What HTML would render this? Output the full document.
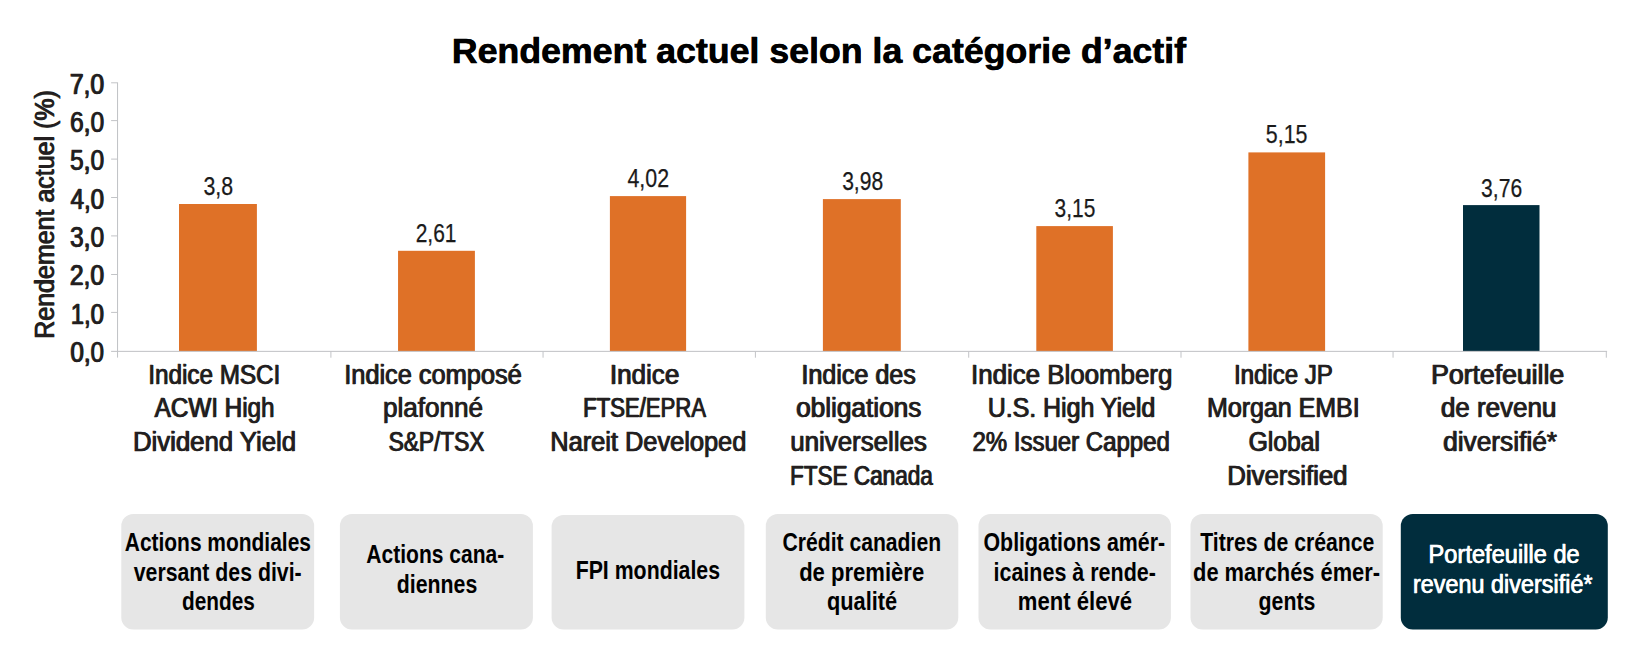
<!DOCTYPE html>
<html lang="fr">
<head>
<meta charset="utf-8">
<title>Rendement actuel selon la catégorie d’actif</title>
<style>
html,body{margin:0;padding:0;background:#fff;}
body{width:1642px;height:656px;position:relative;overflow:hidden;font-family:"Liberation Sans",sans-serif;}
.chart{position:absolute;left:0;top:0;width:1642px;height:656px;}
.axes{position:absolute;left:0;top:0;}
.bar{fill:#df7127;}
.bar.dk{fill:#012d3d;}
.box{fill:#e6e6e6;}
.box.dk{fill:#012d3d;}
.t{position:absolute;left:0;top:0;white-space:nowrap;line-height:1;transform-origin:0 0;margin:0;padding:0;font-kerning:normal;}

.ti{font-size:35.80px;font-weight:700;color:#000000;-webkit-text-stroke:0.40px #000000;}
.ax{font-size:28.40px;font-weight:400;color:#231f20;-webkit-text-stroke:0.50px #231f20;}
.tk{font-size:29.00px;font-weight:400;color:#231f20;-webkit-text-stroke:0.50px #231f20;}
.yt{font-size:28.40px;font-weight:400;color:#231f20;-webkit-text-stroke:0.50px #231f20;}
.val{font-size:25.60px;font-weight:400;color:#1a1a1a;-webkit-text-stroke:0.25px #1a1a1a;}
.bx{font-size:25.00px;font-weight:700;color:#000000;}
.bw{font-size:25.00px;font-weight:400;color:#ffffff;-webkit-text-stroke:0.40px #ffffff;}
</style>
</head>
<body>
<div class="chart">
<svg class="axes" width="1642" height="656" viewBox="0 0 1642 656" aria-hidden="true"><rect class="bar" x="179" y="204" width="77.9" height="147.2"/><rect class="bar" x="398.05" y="250.8" width="76.85" height="100.4"/><rect class="bar" x="609.9" y="196.1" width="76.2" height="155.1"/><rect class="bar" x="822.9" y="199.1" width="77.9" height="152.1"/><rect class="bar" x="1036.3" y="226.1" width="76.6" height="125.1"/><rect class="bar" x="1248.4" y="152.4" width="76.7" height="198.8"/><rect class="bar dk" x="1463" y="205.1" width="76.5" height="146.1"/><rect class="box" x="121.3" y="514" width="192.85" height="115.5" rx="12" ry="12"/><rect class="box" x="339.9" y="514" width="193" height="115.5" rx="12" ry="12"/><rect class="box" x="551.6" y="515.1" width="192.8" height="114.4" rx="12" ry="12"/><rect class="box" x="765.8" y="514" width="192.5" height="115.5" rx="12" ry="12"/><rect class="box" x="978.5" y="514" width="192.4" height="115.5" rx="12" ry="12"/><rect class="box" x="1190.5" y="514" width="192.2" height="115.5" rx="12" ry="12"/><rect class="box dk" x="1400.8" y="514" width="207" height="115.5" rx="12" ry="12"/><g fill="#c2c4c7"><rect x="117" y="82.3" width="1.05" height="275.3"/><rect x="111.1" y="350.85" width="1496" height="1.05"/><rect x="111.1" y="82.3" width="6" height="1"/><rect x="111.1" y="120.1" width="6" height="1"/><rect x="111.1" y="158.6" width="6" height="1"/><rect x="111.1" y="197" width="6" height="1"/><rect x="111.1" y="235.4" width="6" height="1"/><rect x="111.1" y="274" width="6" height="1"/><rect x="111.1" y="311.9" width="6" height="1"/><rect x="330.4" y="351.5" width="1" height="6.2"/><rect x="542.55" y="351.5" width="1" height="6.2"/><rect x="754.9" y="351.5" width="1" height="6.2"/><rect x="968.2" y="351.5" width="1" height="6.2"/><rect x="1180.5" y="351.5" width="1" height="6.2"/><rect x="1392.55" y="351.5" width="1" height="6.2"/><rect x="1605.8" y="351.5" width="1" height="6.2"/></g></svg>
<div id="t0" class="t ti" style="top:34px;transform:translateX(451.70px) scaleX(0.9975);text-shadow:0.401px 0 0 #000000">Rendement actuel selon la catégorie d’actif</div>
<div id="t1" class="t tk" style="top:70px;transform:translateX(69.54px) scaleX(0.8495);text-shadow:1.001px 0 0 #231f20">7,0</div>
<div id="t2" class="t tk" style="top:108px;transform:translateX(69.68px) scaleX(0.8460);text-shadow:1.005px 0 0 #231f20">6,0</div>
<div id="t3" class="t tk" style="top:146px;transform:translateX(69.75px) scaleX(0.8435);text-shadow:1.008px 0 0 #231f20">5,0</div>
<div id="t4" class="t tk" style="top:185px;transform:translateX(70.37px) scaleX(0.8269);text-shadow:1.028px 0 0 #231f20">4,0</div>
<div id="t5" class="t tk" style="top:223px;transform:translateX(69.76px) scaleX(0.8434);text-shadow:1.008px 0 0 #231f20">3,0</div>
<div id="t6" class="t tk" style="top:261px;transform:translateX(69.57px) scaleX(0.8491);text-shadow:1.001px 0 0 #231f20">2,0</div>
<div id="t7" class="t tk" style="top:300px;transform:translateX(70.45px) scaleX(0.8237);text-shadow:1.032px 0 0 #231f20">1,0</div>
<div id="t8" class="t tk" style="top:338px;transform:translateX(70.10px) scaleX(0.8331);text-shadow:1.020px 0 0 #231f20">0,0</div>
<div id="t9" class="t val" style="top:174px;transform:translateX(203.45px) scaleX(0.8344)">3,8</div>
<div id="t10" class="t val" style="top:221px;transform:translateX(415.63px) scaleX(0.8197)">2,61</div>
<div id="t11" class="t val" style="top:166px;transform:translateX(627.46px) scaleX(0.8347)">4,02</div>
<div id="t12" class="t val" style="top:169px;transform:translateX(842.14px) scaleX(0.8237)">3,98</div>
<div id="t13" class="t val" style="top:196px;transform:translateX(1054.61px) scaleX(0.8170)">3,15</div>
<div id="t14" class="t val" style="top:122px;transform:translateX(1265.83px) scaleX(0.8369)">5,15</div>
<div id="t15" class="t val" style="top:176px;transform:translateX(1481.12px) scaleX(0.8245)">3,76</div>
<div id="t16" class="t ax" style="top:360px;transform:translateX(148.02px) scaleX(0.8534);text-shadow:0.996px 0 0 #231f20">Indice MSCI</div>
<div id="t17" class="t ax" style="top:393px;transform:translateX(154.37px) scaleX(0.8536);text-shadow:0.996px 0 0 #231f20">ACWI High</div>
<div id="t18" class="t ax" style="top:427px;transform:translateX(132.65px) scaleX(0.9064);text-shadow:0.938px 0 0 #231f20">Dividend Yield</div>
<div id="t19" class="t ax" style="top:360px;transform:translateX(343.89px) scaleX(0.8930);text-shadow:0.952px 0 0 #231f20">Indice composé</div>
<div id="t20" class="t ax" style="top:393px;transform:translateX(382.63px) scaleX(0.9182);text-shadow:0.926px 0 0 #231f20">plafonné</div>
<div id="t21" class="t ax" style="top:427px;transform:translateX(388.36px) scaleX(0.7983);text-shadow:1.065px 0 0 #231f20">S&amp;P/TSX</div>
<div id="t22" class="t ax" style="top:360px;transform:translateX(609.55px) scaleX(0.9169);text-shadow:0.927px 0 0 #231f20">Indice</div>
<div id="t23" class="t ax" style="top:393px;transform:translateX(582.82px) scaleX(0.7792);text-shadow:1.091px 0 0 #231f20">FTSE/EPRA</div>
<div id="t24" class="t ax" style="top:427px;transform:translateX(549.99px) scaleX(0.8935);text-shadow:0.951px 0 0 #231f20">Nareit Developed</div>
<div id="t25" class="t ax" style="top:360px;transform:translateX(801.05px) scaleX(0.8846);text-shadow:0.961px 0 0 #231f20">Indice des</div>
<div id="t26" class="t ax" style="top:393px;transform:translateX(795.80px) scaleX(0.9223);text-shadow:0.922px 0 0 #231f20">obligations</div>
<div id="t27" class="t ax" style="top:427px;transform:translateX(789.94px) scaleX(0.9109);text-shadow:0.933px 0 0 #231f20">universelles</div>
<div id="t28" class="t ax" style="top:461px;transform:translateX(789.68px) scaleX(0.7940);text-shadow:1.070px 0 0 #231f20">FTSE Canada</div>
<div id="t29" class="t ax" style="top:360px;transform:translateX(970.74px) scaleX(0.9110);text-shadow:0.933px 0 0 #231f20">Indice Bloomberg</div>
<div id="t30" class="t ax" style="top:393px;transform:translateX(987.39px) scaleX(0.8776);text-shadow:0.969px 0 0 #231f20">U.S. High Yield</div>
<div id="t31" class="t ax" style="top:427px;transform:translateX(972.13px) scaleX(0.8452);text-shadow:1.006px 0 0 #231f20">2% Issuer Capped</div>
<div id="t32" class="t ax" style="top:360px;transform:translateX(1233.70px) scaleX(0.8462);text-shadow:1.004px 0 0 #231f20">Indice JP</div>
<div id="t33" class="t ax" style="top:393px;transform:translateX(1206.75px) scaleX(0.8790);text-shadow:0.967px 0 0 #231f20">Morgan EMBI</div>
<div id="t34" class="t ax" style="top:427px;transform:translateX(1248.30px) scaleX(0.8680);text-shadow:0.979px 0 0 #231f20">Global</div>
<div id="t35" class="t ax" style="top:461px;transform:translateX(1226.98px) scaleX(0.9070);text-shadow:0.937px 0 0 #231f20">Diversified</div>
<div id="t36" class="t ax" style="top:360px;transform:translateX(1430.82px) scaleX(0.9368);text-shadow:0.907px 0 0 #231f20">Portefeuille</div>
<div id="t37" class="t ax" style="top:393px;transform:translateX(1440.54px) scaleX(0.9149);text-shadow:0.929px 0 0 #231f20">de revenu</div>
<div id="t38" class="t ax" style="top:427px;transform:translateX(1442.79px) scaleX(0.9259);text-shadow:0.918px 0 0 #231f20">diversifié*</div>
<div id="t39" class="t bx" style="top:530px;transform:translateX(124.77px) scaleX(0.8376)">Actions mondiales</div>
<div id="t40" class="t bx" style="top:560px;transform:translateX(133.77px) scaleX(0.8508)">versant des divi-</div>
<div id="t41" class="t bx" style="top:589px;transform:translateX(182.00px) scaleX(0.8316)">dendes</div>
<div id="t42" class="t bx" style="top:542px;transform:translateX(366.34px) scaleX(0.8411)">Actions cana-</div>
<div id="t43" class="t bx" style="top:572px;transform:translateX(396.84px) scaleX(0.8511)">diennes</div>
<div id="t44" class="t bx" style="top:558px;transform:translateX(575.64px) scaleX(0.8518)">FPI mondiales</div>
<div id="t45" class="t bx" style="top:530px;transform:translateX(782.47px) scaleX(0.8455)">Crédit canadien</div>
<div id="t46" class="t bx" style="top:560px;transform:translateX(799.15px) scaleX(0.8820)">de première</div>
<div id="t47" class="t bx" style="top:589px;transform:translateX(827.00px) scaleX(0.8707)">qualité</div>
<div id="t48" class="t bx" style="top:530px;transform:translateX(983.47px) scaleX(0.8544)">Obligations amér-</div>
<div id="t49" class="t bx" style="top:560px;transform:translateX(993.49px) scaleX(0.8596)">icaines à rende-</div>
<div id="t50" class="t bx" style="top:589px;transform:translateX(1017.74px) scaleX(0.8842)">ment élevé</div>
<div id="t51" class="t bx" style="top:530px;transform:translateX(1200.24px) scaleX(0.8485)">Titres de créance</div>
<div id="t52" class="t bx" style="top:560px;transform:translateX(1193.05px) scaleX(0.8736)">de marchés émer-</div>
<div id="t53" class="t bx" style="top:589px;transform:translateX(1258.55px) scaleX(0.8514)">gents</div>
<div id="t54" class="t bw" style="top:542px;transform:translateX(1428.33px) scaleX(0.9459);text-shadow:0.529px 0 0 #ffffff">Portefeuille de</div>
<div id="t55" class="t bw" style="top:572px;transform:translateX(1412.75px) scaleX(0.9365);text-shadow:0.534px 0 0 #ffffff">revenu diversifié*</div>
<div id="yt" class="t yt" style="left:30.00px;top:338.61px;transform:rotate(-90deg) scaleX(0.8800);text-shadow:0.966px 0 0 #231f20">Rendement actuel (%)</div>
</div>
</body>
</html>
